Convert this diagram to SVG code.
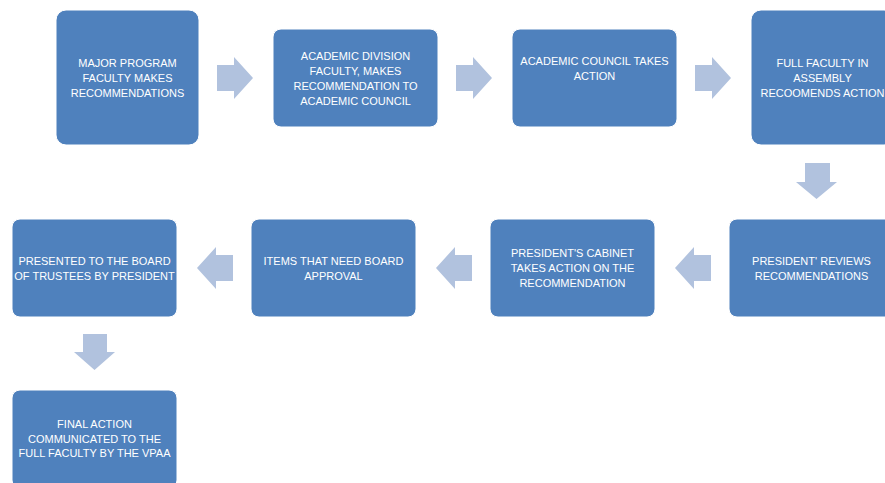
<svg xmlns="http://www.w3.org/2000/svg" width="885" height="483" viewBox="0 0 885 483">
<style>
.box{fill:#4F81BD;stroke:#ffffff;stroke-width:1}
.arr{fill:#B1C2DE}
text{font-family:"Liberation Sans",Arial,sans-serif;font-size:11px;fill:#ffffff;text-anchor:middle}
</style>
<rect width="885" height="483" fill="#ffffff"/>
<g id="connectors">
<polygon class="arr" points="217,65 234,65 234,57 253,78 234,99 234,91 217,91"/>
<polygon class="arr" points="456,65 473,65 473,57 492,78 473,99 473,91 456,91"/>
<polygon class="arr" points="695,65 712,65 712,57 731,78 712,99 712,91 695,91"/>
<polygon class="arr" points="805,163 830,163 830,182 837,182 816.5,199 796,182 805,182"/>
<polygon class="arr" points="711,255 694,255 694,247 675,268 694,289 694,281 711,281"/>
<polygon class="arr" points="472,255 455,255 455,247 436,268 455,289 455,281 472,281"/>
<polygon class="arr" points="233,255 216,255 216,247 197,268 216,289 216,281 233,281"/>
<polygon class="arr" points="83,334 107,334 107,352 115,352 94.5,370 74,352 83,352"/>
</g>
<g id="n1">
<rect class="box" x="56" y="10" width="143" height="135" rx="10"/>
<text x="127.5" y="67">MAJOR PROGRAM</text>
<text x="127.5" y="82">FACULTY MAKES</text>
<text x="127.5" y="97">RECOMMENDATIONS</text>
</g>
<g id="n2">
<rect class="box" x="273" y="29" width="165" height="98" rx="8"/>
<text x="355.5" y="60">ACADEMIC DIVISION</text>
<text x="355.5" y="75">FACULTY, MAKES</text>
<text x="355.5" y="90">RECOMMENDATION TO</text>
<text x="355.5" y="105">ACADEMIC COUNCIL</text>
</g>
<g id="n3">
<rect class="box" x="512" y="29" width="165" height="98" rx="8"/>
<text x="594.5" y="65">ACADEMIC COUNCIL TAKES</text>
<text x="594.5" y="80">ACTION</text>
</g>
<g id="n4">
<rect class="box" x="751" y="10" width="143" height="135" rx="10"/>
<text x="822.5" y="67">FULL FACULTY IN</text>
<text x="822.5" y="82">ASSEMBLY</text>
<text x="822.5" y="97">RECOOMENDS ACTION</text>
</g>
<g id="n5">
<rect class="box" x="729" y="219" width="165" height="98" rx="8"/>
<text x="811.5" y="265">PRESIDENT' REVIEWS</text>
<text x="811.5" y="280">RECOMMENDATIONS</text>
</g>
<g id="n6">
<rect class="box" x="490" y="219" width="165" height="98" rx="8"/>
<text x="572.5" y="257">PRESIDENT'S CABINET</text>
<text x="572.5" y="272">TAKES ACTION ON THE</text>
<text x="572.5" y="287">RECOMMENDATION</text>
</g>
<g id="n7">
<rect class="box" x="251" y="219" width="165" height="98" rx="8"/>
<text x="333.5" y="265">ITEMS THAT NEED BOARD</text>
<text x="333.5" y="280">APPROVAL</text>
</g>
<g id="n8">
<rect class="box" x="12" y="219" width="165" height="98" rx="8"/>
<text x="94.5" y="265">PRESENTED TO THE BOARD</text>
<text x="94.5" y="280">OF TRUSTEES BY PRESIDENT</text>
</g>
<g id="n9">
<rect class="box" x="12" y="390" width="165" height="98" rx="8"/>
<text x="94.5" y="428">FINAL ACTION</text>
<text x="94.5" y="442.5">COMMUNICATED TO THE</text>
<text x="94.5" y="457">FULL FACULTY BY THE VPAA</text>
</g>
</svg>
